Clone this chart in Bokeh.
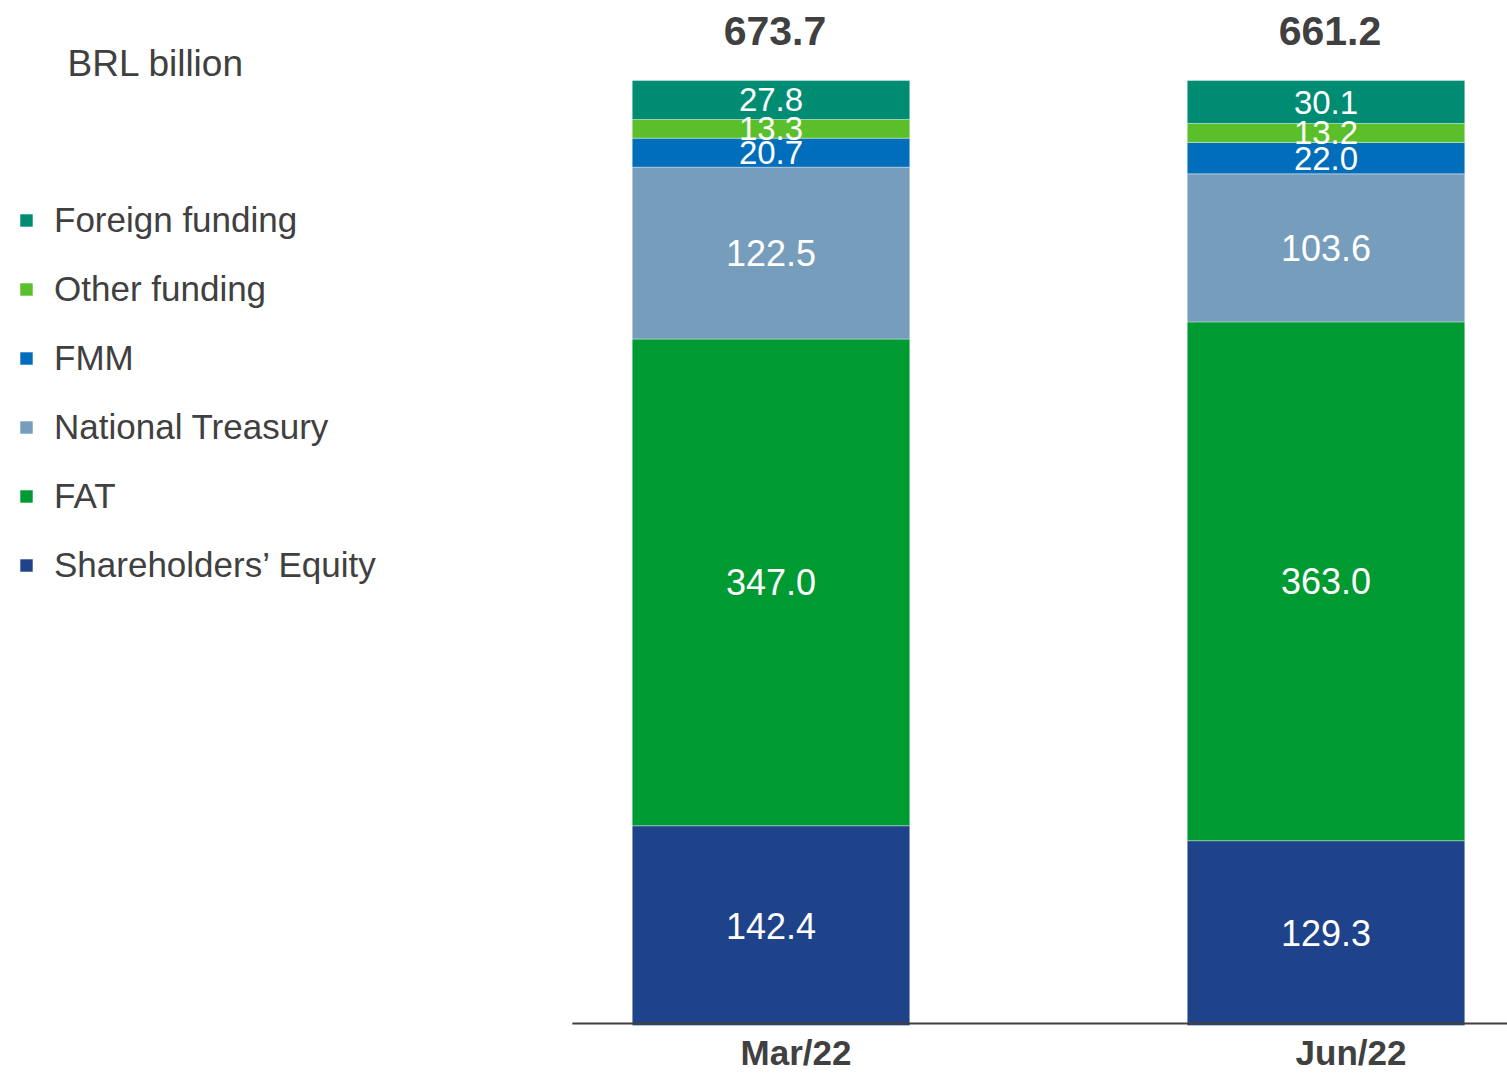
from bokeh.plotting import figure
from bokeh.models import Range1d, Legend, LegendItem, Label, ColumnDataSource
from bokeh.core.properties import value
from bokeh.embed import file_html
from bokeh.resources import INLINE

categories = ["Mar/22", "Jun/22"]
series = ["Shareholders’ Equity", "FAT", "National Treasury", "FMM", "Other funding", "Foreign funding"]
equity = [142.4, 129.3]
fat = [347.0, 363.0]
treasury = [122.5, 103.6]
fmm = [20.7, 22.0]
other = [13.3, 13.2]
foreign = [27.8, 30.1]
colors = ["#1F438B", "#009A33", "#769DBB", "#006EBB", "#5ABF2B", "#008C72"]

values = [equity, fat, treasury, fmm, other, foreign]
keys = ["s%d" % i for i in range(len(series))]
xs = list(range(len(categories)))
totals = [sum(v[i] for v in values) for i in xs]

W, H = 1507, 1074
FONT = value("Liberation Sans")
GREY = "#404040"

p = figure(width=W, height=H, output_backend="svg", toolbar_location=None,
           x_range=Range1d(-770.5 / 555, (W - 770.5) / 555),
           y_range=Range1d(-(H - 1025) / 945, 1 + 80 / 945),
           x_axis_type=None, y_axis_type=None, min_border=0,
           outline_line_color=None, background_fill_color="white")
p.grid.visible = False

data = {"x": xs}
for k, v in zip(keys, values):
    data[k] = [v[i] / totals[i] for i in xs]
src = ColumnDataSource(data)
rs = p.vbar_stack(keys, x="x", width=0.5, color=colors, source=src,
                  line_color="white", line_alpha=0.35, line_width=1)

# segment labels
lx, ly, lt, ls = [], [], [], []
for i in xs:
    base = 0.0
    for v in values:
        sh = v[i] / totals[i]
        lx.append(i)
        ly.append(base + sh / 2)
        lt.append("%.1f" % v[i])
        ls.append("36px" if v[i] >= 100 else "33px")
        base += sh
p.text(x=lx, y=ly, text=lt, text_font_size=ls, text_color="white",
       text_align="center", text_baseline="middle", text_font=FONT)

# totals
p.text(x=xs, y=[1.0] * len(xs), text=["%.1f" % t for t in totals],
       y_offset=-50, x_offset=4, text_font_size="41px", text_font_style="bold",
       text_color=GREY, text_align="center", text_baseline="middle", text_font=FONT)

# category labels
p.text(x=xs, y=[0.0] * len(xs), text=categories, x_offset=25, y_offset=46,
       text_font_size="35px", text_font_style="bold", text_color=GREY,
       text_align="center", text_baseline="bottom", text_font=FONT)

# baseline
p.segment(x0=[-0.358], y0=[0.002], x1=[len(xs) - 0.6], y1=[0.002],
          line_color=GREY, line_width=2)

legend = Legend(items=[LegendItem(label=s, renderers=[r]) for s, r in reversed(list(zip(series, rs)))],
                location=(18, 1074 - 585), orientation="vertical",
                glyph_width=16, glyph_height=16, label_standoff=20,
                label_height=40, spacing=29, padding=0, margin=0,
                border_line_color=None, background_fill_alpha=0,
                label_text_font_size="35px", label_text_color=GREY,
                label_text_font="Liberation Sans")
p.add_layout(legend)

p.add_layout(Label(x=67, y=H - 63, x_units="screen", y_units="screen",
                   text="BRL billion", text_font_size="37px", text_color=GREY,
                   text_baseline="middle", text_font="Liberation Sans"))

open("out.html", "w").write(file_html(p, INLINE))
